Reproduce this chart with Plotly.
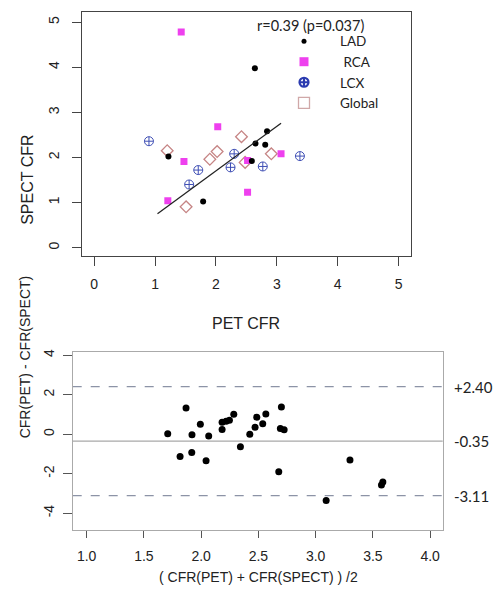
import plotly.graph_objects as go

# ---- Top panel: PET CFR vs SPECT CFR ----
lad_x = [1.22, 1.79, 2.59, 2.65, 2.81, 2.84, 2.64]
lad_y = [2.02, 1.02, 1.92, 2.31, 2.28, 2.58, 3.98]
rca_x = [1.43, 1.475, 1.21, 2.03, 2.52, 2.52, 3.07]
rca_y = [4.78, 1.91, 1.04, 2.68, 1.93, 1.23, 2.08]
lcx_x = [0.90, 1.71, 1.56, 2.30, 2.24, 2.77, 3.38]
lcx_y = [2.36, 1.72, 1.40, 2.08, 1.78, 1.80, 2.03]
glob_x = [1.20, 1.51, 1.90, 2.02, 2.42, 2.48, 2.91]
glob_y = [2.15, 0.905, 1.96, 2.13, 2.46, 1.89, 2.08]
fit_x = [1.04, 3.07]
fit_y = [0.75, 2.76]
corr_text = "r=0.39 (p=0.037)"
top_ticks = [0, 1, 2, 3, 4, 5]

# ---- Bottom panel: Bland-Altman ----
ba_mean = [1.708, 1.868, 1.816, 1.918, 1.920, 1.993, 2.043, 2.066, 2.183, 2.183,
           2.218, 2.247, 2.285, 2.343, 2.425, 2.471, 2.486, 2.538, 2.565, 2.701,
           2.692, 2.725, 2.678, 3.30, 3.092, 3.587, 3.575]
ba_diff = [0.015, 1.325, -1.13, -0.93, -0.03, 0.50, -1.35, -0.09, 0.23, 0.60,
           0.65, 0.70, 1.01, -0.64, 0.0, 0.35, 0.86, 0.53, 1.02, 1.375,
           0.28, 0.22, -1.90, -1.31, -3.36, -2.42, -2.57]
ba_lines = [2.40, -0.35, -3.11]
ba_labels = ["+2.40", "-0.35", "-3.11"]
ba_line_styles = ["dash", "solid", "dash"]
ba_line_colors = ["#8C93A6", "#A8A8A8", "#8C93A6"]
bx_ticks = [1.0, 1.5, 2.0, 2.5, 3.0, 3.5, 4.0]
by_ticks = [-4, -2, 0, 2, 4]

C_RCA = "#EE40EE"
C_LCX = "#3F4FB5"
C_GLOB = "#C68585"

fig = go.Figure()

fig.add_trace(go.Scatter(x=glob_x, y=glob_y, mode="markers", showlegend=False,
                         marker=dict(symbol="diamond-open", size=9, color=C_GLOB,
                                     line=dict(width=1.3, color=C_GLOB)),
                         xaxis="x", yaxis="y"))
fig.add_trace(go.Scatter(x=lcx_x, y=lcx_y, mode="markers", showlegend=False,
                         marker=dict(symbol="circle-cross-open", size=9, color=C_LCX,
                                     line=dict(width=1, color=C_LCX)),
                         xaxis="x", yaxis="y"))
fig.add_trace(go.Scatter(x=rca_x, y=rca_y, mode="markers", showlegend=False,
                         marker=dict(symbol="square", size=7, color=C_RCA),
                         xaxis="x", yaxis="y"))
fig.add_trace(go.Scatter(x=lad_x, y=lad_y, mode="markers", showlegend=False,
                         marker=dict(symbol="circle", size=6, color="black"),
                         xaxis="x", yaxis="y"))
fig.add_trace(go.Scatter(x=fit_x, y=fit_y, mode="lines", showlegend=False,
                         line=dict(color="#222222", width=1.3),
                         xaxis="x", yaxis="y"))

# legend-only entries
fig.add_trace(go.Scatter(x=[None], y=[None], mode="markers", name="LAD",
                         marker=dict(symbol="circle", size=5, color="black"),
                         xaxis="x", yaxis="y"))
fig.add_trace(go.Scatter(x=[None], y=[None], mode="markers", name=" RCA",
                         marker=dict(symbol="square", size=9, color=C_RCA),
                         xaxis="x", yaxis="y"))
fig.add_trace(go.Scatter(x=[None], y=[None], mode="markers", name="LCX",
                         marker=dict(symbol="circle-cross-open", size=9, color="#2B3BB0",
                                     line=dict(width=2.2, color="#2B3BB0")),
                         xaxis="x", yaxis="y"))
fig.add_trace(go.Scatter(x=[None], y=[None], mode="markers", name="Global",
                         marker=dict(symbol="square-open", size=11, color="#D0A8A8",
                                     line=dict(width=1.3, color="#D0A8A8")),
                         xaxis="x", yaxis="y"))

fig.add_trace(go.Scatter(x=ba_mean, y=ba_diff, mode="markers", showlegend=False,
                         marker=dict(symbol="circle", size=7, color="black"),
                         xaxis="x2", yaxis="y2"))

for val, lab, dsh, col in zip(ba_lines, ba_labels, ba_line_styles, ba_line_colors):
    fig.add_shape(type="line", xref="x2 domain", yref="y2", x0=0, x1=1, y0=val, y1=val,
                  line=dict(color=col, width=1.2, dash=dsh), layer="below")
    fig.add_annotation(xref="paper", yref="y2", x=452 / 496, y=val, text=lab,
                       showarrow=False, xanchor="left", yanchor="middle",
                       font=dict(family="Lato", size=15, color="#222"))

fig.add_annotation(xref="paper", yref="paper", x=310 / 496, y=1 - 23 / 600, text=corr_text,
                   showarrow=False, xanchor="center", yanchor="middle",
                   font=dict(family="Lato", size=14.5, color="#222"))

# axis titles
AF = "Liberation Sans, Arial"
fig.add_annotation(xref="paper", yref="paper", x=246 / 496, y=1 - 322 / 600, text="PET CFR",
                   showarrow=False, font=dict(family=AF, size=16, color="#222"))
fig.add_annotation(xref="paper", yref="paper", x=17 / 496, y=1 - 131 / 600, text="SPECT CFR",
                   showarrow=False, textangle=-90, font=dict(family=AF, size=16, color="#222"))
fig.add_annotation(xref="paper", yref="paper", x=258 / 496, y=1 - 587 / 600,
                   text="( CFR(PET) + CFR(SPECT) ) /2",
                   showarrow=False, font=dict(family=AF, size=14, color="#222"))
fig.add_annotation(xref="paper", yref="paper", x=15 / 496, y=1 - 440 / 600,
                   text="CFR(PET) - CFR(SPECT)",
                   showarrow=False, textangle=-90, font=dict(family=AF, size=14, color="#222"))

tickfont = dict(family=AF, size=14, color="#222")

fig.update_layout(
    width=496, height=600,
    margin=dict(l=0, r=0, t=0, b=0),
    paper_bgcolor="white", plot_bgcolor="white",
    showlegend=True,
    legend=dict(x=268 / 496, y=1 - 23 / 600, xanchor="left", yanchor="top",
                bgcolor="rgba(0,0,0,0)", font=dict(family="Lato", size=13.5, color="#222"),
                itemwidth=62, tracegroupgap=0),
    xaxis=dict(domain=[82 / 496, 410.7 / 496], range=[-0.2, 5.2], anchor="y",
               tickvals=top_ticks, ticktext=[str(t) for t in top_ticks],
               ticks="outside", ticklen=9, tickcolor="#444", tickwidth=1,
               showline=True, linecolor="#444", linewidth=1, mirror=True,
               showgrid=False, zeroline=False, tickfont=tickfont, ticklabelstandoff=6),
    yaxis=dict(domain=[1 - 254 / 600, 1 - 9.3 / 600], range=[-0.18, 5.22], anchor="x",
               tickvals=top_ticks, ticktext=[str(t) for t in top_ticks], tickangle=-90,
               ticks="outside", ticklen=9, tickcolor="#444", tickwidth=1,
               showline=True, linecolor="#444", linewidth=1, mirror=True,
               showgrid=False, zeroline=False, tickfont=tickfont, ticklabelstandoff=7),
    xaxis2=dict(domain=[72.7 / 496, 442.7 / 496], range=[0.878, 4.11], anchor="y2",
                tickvals=bx_ticks, ticktext=["%.1f" % t for t in bx_ticks],
                ticks="outside", ticklen=7, tickcolor="#555", tickwidth=1,
                showline=True, linecolor="#AAAAAA", linewidth=1, mirror=True,
                showgrid=False, zeroline=False, tickfont=tickfont, ticklabelstandoff=6),
    yaxis2=dict(domain=[1 - 530 / 600, 1 - 350.7 / 600], range=[-4.87, 4.16], anchor="x2",
                tickvals=by_ticks, ticktext=[str(t) for t in by_ticks], tickangle=-90,
                ticks="outside", ticklen=9, tickcolor="#555", tickwidth=1,
                showline=True, linecolor="#AAAAAA", linewidth=1, mirror=True,
                showgrid=False, zeroline=False, tickfont=tickfont, ticklabelstandoff=3),
)

fig.write_html("out.html", config={"displayModeBar": False},
               post_script="document.body.style.margin='0px';")
